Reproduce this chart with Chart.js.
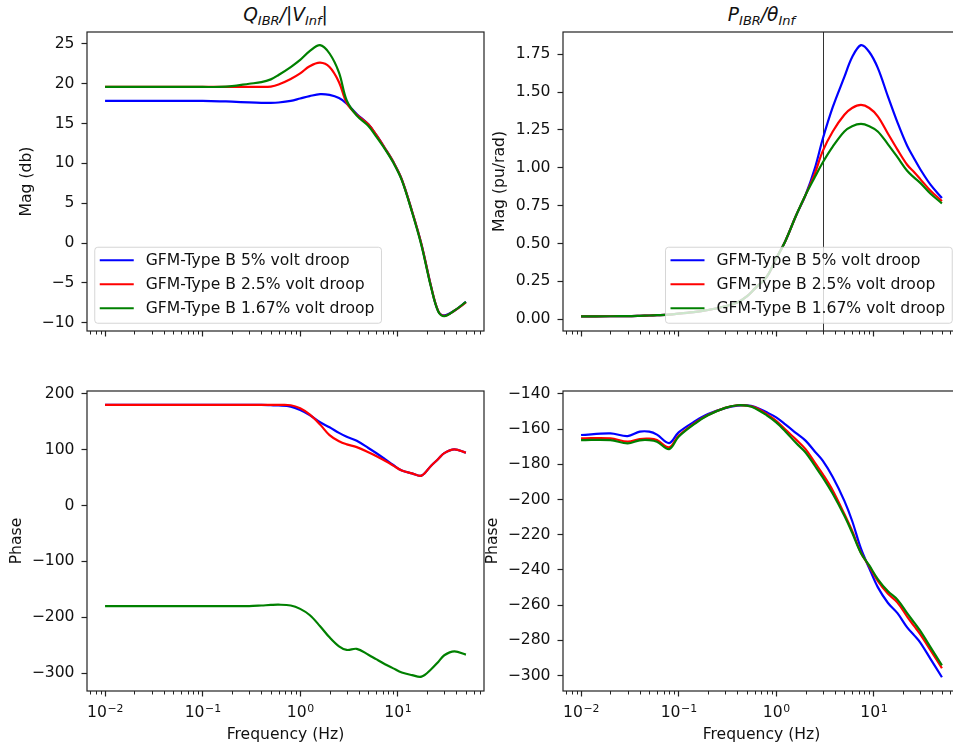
<!DOCTYPE html>
<html>
<head>
<meta charset="utf-8">
<script src="https://cdn.jsdelivr.net/npm/chart.js@4.4.1/dist/chart.umd.min.js"></script>
<style>
  html, body { margin: 0; padding: 0; background: #fff; overflow: hidden; }
  body { width: 953px; height: 749px; position: relative; }
  canvas { position: absolute; }
  .ttl { position: absolute; text-align: center; font-family: "DejaVu Sans"; font-style: italic;
         font-size: 18.6px; line-height: 1; color: #111; }
  .ttl sub { font-size: 70%; vertical-align: -0.3em; line-height: 0; }
  .ttl .up { font-style: normal; }
</style>
</head>
<body>
<div class="ttl" style="left:87px;width:397px;top:6px">Q<sub>IBR</sub>/<span class="up">|</span>V<sub>Inf</sub><span class="up">|</span></div>
<div class="ttl" style="left:563px;width:397px;top:6px">P<sub>IBR</sub>/θ<sub>Inf</sub></div>
<canvas id="magQ" width="500" height="360" style="left:0;top:0"></canvas>
<canvas id="magP" width="490" height="360" style="left:480px;top:0"></canvas>
<canvas id="phQ" width="500" height="389" style="left:0;top:360px"></canvas>
<canvas id="phP" width="490" height="389" style="left:480px;top:360px"></canvas>
<script>
// ---------- data ----------
const freq = [0.01, 0.02, 0.03, 0.04, 0.05, 0.06, 0.08, 0.1,
              0.15, 0.2, 0.3, 0.4, 0.5, 0.6, 0.8, 1.0,
              1.25, 1.6, 2.0, 2.5, 3.0, 3.8, 5.0, 6.0,
              7.4, 9.0, 11, 14, 17.5, 22, 26, 30,
              38, 50];

const seriesNames = ['GFM-Type B 5% volt droop', 'GFM-Type B 2.5% volt droop', 'GFM-Type B 1.67% volt droop'];
const seriesColors = ['#0000ff', '#ff0000', '#008000'];

// Q_IBR/|V_Inf| magnitude (dB)
const magQ5 = [17.85, 17.85, 17.85, 17.85, 17.85, 17.85, 17.85, 17.85,
               17.8, 17.75, 17.65, 17.6, 17.6, 17.65, 17.85, 18.15,
               18.45, 18.7, 18.6, 18.2, 17.5, 16.2, 14.9, 13.6,
               11.9, 10.2, 8.0, 4.0, -0.15, -5.5, -8.55, -9.1,
               -8.5, -7.4];
const magQ25 = [19.6, 19.6, 19.6, 19.6, 19.6, 19.6, 19.6, 19.6,
                19.6, 19.6, 19.6, 19.6, 19.65, 19.9, 20.6, 21.3,
                22.2, 22.65, 22.1, 20.2, 17.6, 16.1, 14.9, 13.6,
                11.9, 10.2, 8.0, 4.0, -0.15, -5.5, -8.55, -9.15,
                -8.5, -7.45];
const magQ167 = [19.6, 19.6, 19.6, 19.6, 19.6, 19.6, 19.6, 19.6,
                 19.6, 19.7, 20.0, 20.2, 20.55, 21.1, 22.1, 23.0,
                 24.1, 24.85, 23.8, 21.4, 17.9, 16.0, 14.7, 13.4,
                 11.8, 10.1, 7.9, 3.9, -0.3, -5.6, -8.6, -9.2,
                 -8.5, -7.4];

// P_IBR/theta_Inf magnitude (pu/rad)
const magP5 = [0.018, 0.019, 0.02, 0.022, 0.024, 0.026, 0.03, 0.036,
               0.048, 0.06, 0.085, 0.11, 0.15, 0.2, 0.28, 0.4,
               0.52, 0.685, 0.82, 1.0, 1.19, 1.40, 1.60, 1.73,
               1.81, 1.765, 1.66, 1.47, 1.30, 1.145, 1.06, 0.99,
               0.89, 0.80];
const magP25 = [0.018, 0.019, 0.02, 0.022, 0.024, 0.026, 0.03, 0.036,
                0.048, 0.06, 0.085, 0.11, 0.15, 0.2, 0.28, 0.4,
                0.52, 0.685, 0.82, 0.965, 1.11, 1.24, 1.35, 1.395,
                1.415, 1.395, 1.34, 1.225, 1.12, 1.02, 0.97, 0.925,
                0.85, 0.78];
const magP167 = [0.018, 0.019, 0.02, 0.022, 0.024, 0.026, 0.03, 0.036,
                 0.048, 0.06, 0.085, 0.11, 0.15, 0.2, 0.28, 0.4,
                 0.52, 0.685, 0.82, 0.94, 1.035, 1.14, 1.24, 1.275,
                 1.29, 1.275, 1.24, 1.155, 1.07, 0.98, 0.935, 0.9,
                 0.83, 0.765];

// Q_IBR/|V_Inf| phase (deg)
const phQ5 = [180, 180, 180, 180, 180, 180, 180, 180,
              180, 180, 180, 180, 179.5, 179, 177, 171,
              162, 149, 140, 130, 123, 116, 103, 94,
              83, 72.5, 62.5, 57.5, 53.5, 71.3, 83.2, 93.7,
              100.4, 94.5];
const phQ25 = [180, 180, 180, 180, 180, 180, 180, 180,
               180, 180, 180, 180, 180, 180, 179.5, 174,
               163, 145, 126, 115, 109.5, 104.5, 95.5, 88.5,
               80, 71.5, 62.5, 57.5, 53.5, 71.3, 83.2, 93.7,
               100.4, 94.5];
const phQ167 = [-180, -180, -180, -180, -180, -180, -180, -180,
                -180, -180, -180, -179, -178, -177.5, -179, -185,
                -196, -216, -236, -252, -258.5, -256.6, -267, -275,
                -284, -291.5, -299, -303.5, -306.3, -293, -280, -268,
                -261, -266.8];

// P_IBR/theta_Inf phase (deg)
const phP5 = [-163.4, -162.5, -164, -161.5, -161.5, -163.2, -168, -161.9,
              -155.3, -151.5, -148.1, -146.7, -146.5, -147.3, -150.5, -153.4,
              -157.5, -162.3, -166.6, -172.9, -178, -187.3, -200.8, -212.1,
              -228, -239.1, -249.8, -258.8, -264.6, -272.7, -277.2, -281.3,
              -290.4, -301];
const phP25 = [-165.3, -165.3, -167.2, -165.7, -165.5, -166.3, -170.4, -163.8,
               -156.2, -152, -148, -146.5, -146.7, -147.7, -151.5, -155.3,
               -160.5, -166, -171.4, -179.2, -185.6, -194.9, -208.3, -217.8,
               -230.3, -238, -246.2, -253.6, -258.5, -266.5, -272, -276.6,
               -285.4, -295.9];
const phP167 = [-166.3, -166.3, -168.2, -166.4, -166.3, -167.2, -171.4, -164.4,
                -156.6, -152.2, -148, -146.5, -146.7, -148, -152.2, -156.2,
                -161.5, -168, -173.3, -181, -187.5, -196.8, -209.3, -218.8,
                -230.5, -237.5, -245.2, -252.2, -256.9, -264.6, -270, -274.7,
                -283.7, -294.2];

// axes
const xMin = 0.00653, xMax = 76.6;
const xMajor = [0.01, 0.1, 1, 10];
const xExponents = ['−2', '−1', '0', '1'];   // labels are 10^exp
const markerFreq = 3;   // vertical line in the P magnitude plot

const yTicksMagQ = [-10, -5, 0, 5, 10, 15, 20, 25];
const yTicksMagP = [0, 0.25, 0.5, 0.75, 1.0, 1.25, 1.5, 1.75];
const yTicksPhQ = [-300, -200, -100, 0, 100, 200];
const yTicksPhP = [-300, -280, -260, -240, -220, -200, -180, -160, -140];

// ---------- drawing ----------
Chart.defaults.font.family = '"DejaVu Sans"';
Chart.defaults.font.size = 15.6;
Chart.defaults.color = '#111';

const minorFreqs = [];
[0.001, 0.01, 0.1, 1, 10].forEach(d => { for (let m = 2; m <= 9; m++) minorFreqs.push(m * d); });

const axesBox = {
  id: 'axesBox',
  beforeDatasetsDraw(chart, args, opts) {
    if (opts.marker == null) return;
    const {ctx, chartArea: a} = chart;
    const px = Math.round(chart.scales.x.getPixelForValue(opts.marker)) + 0.5;
    ctx.save();
    ctx.strokeStyle = '#333';
    ctx.lineWidth = 1;
    ctx.beginPath();
    ctx.moveTo(px, a.top);
    ctx.lineTo(px, a.bottom);
    ctx.stroke();
    ctx.restore();
  },
  afterDraw(chart, args, opts) {
    const {ctx, chartArea: a} = chart;
    const xs = chart.scales.x;
    ctx.save();
    ctx.strokeStyle = '#222';
    ctx.lineWidth = 1.2;
    ctx.strokeRect(a.left, a.top, a.right - a.left, a.bottom - a.top);
    ctx.lineWidth = 1;
    ctx.beginPath();
    minorFreqs.forEach(f => {
      if (f <= xs.min || f >= xs.max) return;
      const px = Math.round(xs.getPixelForValue(f)) + 0.5;
      ctx.moveTo(px, a.bottom);
      ctx.lineTo(px, a.bottom + 3.5);
    });
    ctx.stroke();

    // 10^n labels with a raised exponent
    if (opts.xLabels) {
      const base = a.bottom + 26;
      ctx.fillStyle = '#111';
      ctx.textBaseline = 'alphabetic';
      ctx.textAlign = 'left';
      xMajor.forEach((v, i) => {
        ctx.font = '15.6px "DejaVu Sans"';
        const wb = ctx.measureText('10').width;
        ctx.font = '10.9px "DejaVu Sans"';
        const we = ctx.measureText(xExponents[i]).width;
        const x0 = xs.getPixelForValue(v) - (wb + we) / 2;
        ctx.font = '15.6px "DejaVu Sans"';
        ctx.fillText('10', x0, base);
        ctx.font = '10.9px "DejaVu Sans"';
        ctx.fillText(xExponents[i], x0 + wb + 0.5, base - 5.5);
      });
    }
    ctx.restore();
  }
};

const boxLegend = {
  id: 'boxLegend',
  afterDatasetsDraw(chart, args, opts) {
    if (!opts.corner) return;
    const {ctx, chartArea: a} = chart;
    const items = chart.data.datasets;
    ctx.save();
    ctx.font = '15.6px "DejaVu Sans"';
    const textW = Math.max(...items.map(d => ctx.measureText(d.label).width));
    const w = 5 + 34 + 12 + textW + 7;
    const h = 76;
    const x = opts.corner === 'right' ? a.right - 7.75 - w : a.left + 7.75;
    const y = a.bottom - 7.75 - h;
    ctx.beginPath();
    ctx.roundRect(x, y, w, h, 3);
    ctx.fillStyle = 'rgba(255,255,255,0.8)';
    ctx.fill();
    ctx.strokeStyle = 'rgba(204,204,204,0.8)';
    ctx.lineWidth = 1;
    ctx.stroke();
    items.forEach((d, i) => {
      const cy = y + 13 + i * 24;
      ctx.strokeStyle = d.borderColor;
      ctx.lineWidth = 2.2;
      ctx.beginPath();
      ctx.moveTo(x + 5, cy);
      ctx.lineTo(x + 39, cy);
      ctx.stroke();
      ctx.fillStyle = '#111';
      ctx.textBaseline = 'middle';
      ctx.fillText(d.label, x + 51, cy + 1);
    });
    ctx.restore();
  }
};

const pts = ys => freq.map((f, i) => ({x: f, y: ys[i]}));

function makePlot(id, cfg) {
  const datasets = cfg.series.map((ys, i) => ({
    label: seriesNames[i],
    data: pts(ys),
    borderColor: seriesColors[i],
    borderWidth: 2.2,
    pointRadius: 0,
    fill: false,
    tension: 0.35,
    order: 3 - i
  }));

  return new Chart(document.getElementById(id), {
    type: 'line',
    data: {datasets},
    plugins: [axesBox, boxLegend],
    options: {
      responsive: false,
      animation: false,
      devicePixelRatio: 1,
      layout: {padding: {left: 0, top: cfg.padTop, right: cfg.padRight, bottom: 0}},
      plugins: {
        legend: {display: false},
        tooltip: {enabled: false},
        axesBox: {marker: cfg.marker, xLabels: cfg.xLabels},
        boxLegend: {corner: cfg.legend}
      },
      scales: {
        x: {
          type: 'logarithmic',
          min: xMin,
          max: xMax,
          afterBuildTicks: s => { s.ticks = xMajor.map(v => ({value: v})); },
          afterFit: s => { s.height = cfg.xLabels ? 58 : 29; },
          border: {display: false},
          grid: {drawOnChartArea: false, tickLength: 5.5, tickColor: '#222', tickWidth: 1.2},
          ticks: {autoSkip: false, maxRotation: 0, callback: () => ''},
          title: {display: cfg.xLabels, text: 'Frequency (Hz)', padding: {top: 0, bottom: 4.6}}
        },
        y: {
          min: cfg.yMin,
          max: cfg.yMax,
          afterBuildTicks: s => { s.ticks = cfg.yTicks.map(v => ({value: v})); },
          afterFit: s => { s.width = cfg.yWidth; },
          border: {display: false},
          grid: {drawOnChartArea: false, tickLength: 5.5, tickColor: '#222', tickWidth: 1.2},
          ticks: {padding: 7, callback: cfg.yFormat},
          title: {display: true, text: cfg.yTitle, padding: {top: cfg.yTitlePad, bottom: 0}}
        }
      }
    }
  });
}

const intFmt = v => String(v).replace('-', '−');

makePlot('magQ', {
  series: [magQ5, magQ25, magQ167], yMin: -11.05, yMax: 26.5, yTicks: yTicksMagQ, yFormat: intFmt,
  yTitle: 'Mag (db)', yTitlePad: 17.6, yWidth: 87, padTop: 32, padRight: 16, xLabels: false, legend: 'left'
});
makePlot('magP', {
  series: [magP5, magP25, magP167], yMin: -0.0785, yMax: 1.897, yTicks: yTicksMagP, yFormat: v => v.toFixed(2),
  yTitle: 'Mag (pu/rad)', yTitlePad: 10.6, yWidth: 83, padTop: 32, padRight: 10, xLabels: false, legend: 'right',
  marker: markerFreq
});
makePlot('phQ', {
  series: [phQ5, phQ25, phQ167], yMin: -332, yMax: 205, yTicks: yTicksPhQ, yFormat: intFmt,
  yTitle: 'Phase', yTitlePad: 7.6, yWidth: 87, padTop: 31, padRight: 16, xLabels: true
});
makePlot('phP', {
  series: [phP5, phP25, phP167], yMin: -308.8, yMax: -138.4, yTicks: yTicksPhP, yFormat: intFmt,
  yTitle: 'Phase', yTitlePad: 3.6, yWidth: 83, padTop: 31, padRight: 10, xLabels: true
});
</script>
</body>
</html>
